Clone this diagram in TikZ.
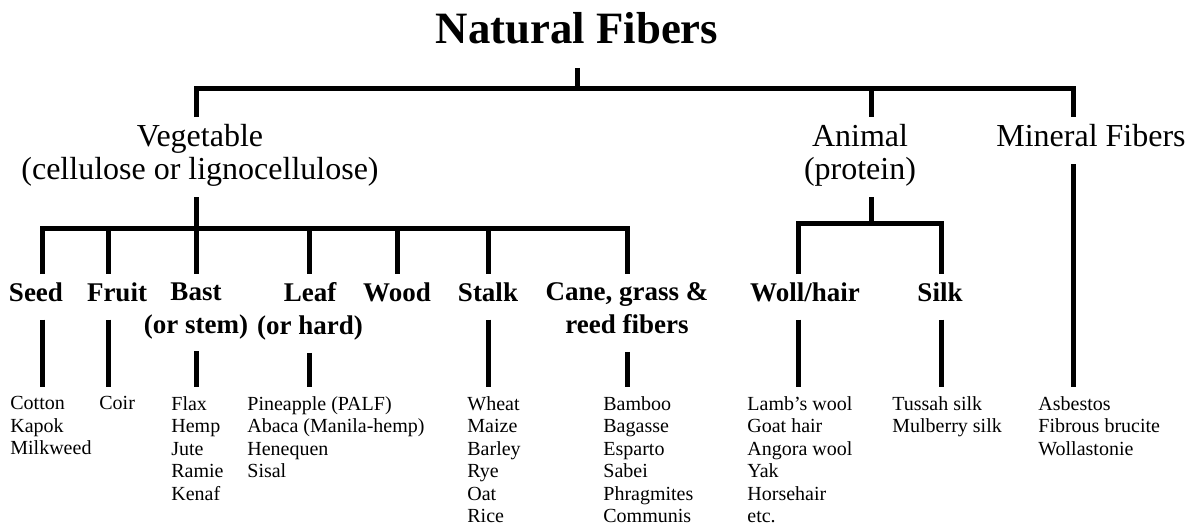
\documentclass[tikz,border=0pt]{standalone}
\usepackage{fontspec}
\setmainfont{Liberation Serif}

\begin{document}
\begin{tikzpicture}[
    x=0.5pt, y=-0.5pt,
    bar/.style={line width=2.5pt, line join=miter},
    head/.style={font=\fontsize{22.4}{26}\selectfont\bfseries, inner xsep=0pt, inner ysep=12pt, anchor=base},
    group/.style={font=\fontsize{16}{16.5}\selectfont, align=center, inner sep=3.5pt, text depth=5pt, anchor=north},
    kind/.style={font=\fontsize{13.5}{16.5}\selectfont\bfseries, align=center, inner sep=4pt, text depth=5pt, anchor=north},
    list/.style={font=\fontsize{10}{11.25}\selectfont, align=left, inner xsep=0pt, inner ysep=4.5pt, anchor=north west}
  ]
    \useasboundingbox (0,0) rectangle (1195,527);
    \node[head] (top) at (577,43) {Natural Fibers};
    \node[group] (veg) at (200,117) {Vegetable\\(cellulose or lignocellulose)};
    \node[group] (ani) at (860,117) {Animal\\(protein)};
    \node[group] (min) at (1091,117) {Mineral Fibers};
    \node[kind] (seed) at (36,274) {Seed};
    \node[kind] (fruit) at (117,274) {Fruit};
    \node[kind] (bast) at (196,274) {Bast\\(or stem)};
    \node[kind] (leaf) at (310,274) {Leaf\\(or hard)};
    \node[kind] (wood) at (397,274) {Wood};
    \node[kind] (stalk) at (488,274) {Stalk};
    \node[kind] (cane) at (627,274) {Cane, grass \&\\reed fibers};
    \node[kind] (wool) at (805,274) {Woll/hair};
    \node[kind] (silk) at (940,274) {Silk};
    \node[list] (cot) at (10,387) {Cotton\\Kapok\\Milkweed};
    \node[list] (coi) at (99,387) {Coir};
    \node[list] (fla) at (171,387) {Flax\\Hemp\\Jute\\Ramie\\Kenaf};
    \node[list] (pin) at (247,387) {Pineapple (PALF)\\Abaca (Manila-hemp)\\Henequen\\Sisal};
    \node[list] (whe) at (467,387) {Wheat\\Maize\\Barley\\Rye\\Oat\\Rice};
    \node[list] (bam) at (603,387) {Bamboo\\Bagasse\\Esparto\\Sabei\\Phragmites\\Communis};
    \node[list] (lam) at (747,387) {Lamb’s wool\\Goat hair\\Angora wool\\Yak\\Horsehair\\etc.};
    \node[list] (tus) at (892,387) {Tussah silk\\Mulberry silk};
    \node[list] (asb) at (1038,387) {Asbestos\\Fibrous brucite\\Wollastonie};
    \coordinate (r1) at (196,88);
    \coordinate (r2) at (871,88);
    \coordinate (r3) at (1073,88);
    \coordinate (v0) at (196,228);
    \coordinate (v1) at (42,228);
    \coordinate (v2) at (108,228);
    \coordinate (v4) at (309,228);
    \coordinate (v5) at (397,228);
    \coordinate (v6) at (488,228);
    \coordinate (v7) at (627,228);
    \coordinate (a0) at (871,223);
    \coordinate (a1) at (798,223);
    \coordinate (a2) at (941,223);
    \draw[bar] (top.south) -- (top.south |- r1);
    \draw[bar] (r1 |- veg.north) -- (r1) -- (r3) -- (r3 |- min.north);
    \draw[bar] (r2) -- (r2 |- ani.north);
    \draw[bar] (veg.south -| v0) -- (v0);
    \draw[bar] (v1 |- seed.north) -- (v1) -- (v7) -- (v7 |- cane.north);
    \draw[bar] (v2) -- (v2 |- fruit.north);
    \draw[bar] (v0) -- (v0 |- bast.north);
    \draw[bar] (v4) -- (v4 |- leaf.north);
    \draw[bar] (v5) -- (v5 |- wood.north);
    \draw[bar] (v6) -- (v6 |- stalk.north);
    \draw[bar] (ani.south -| a0) -- (a0);
    \draw[bar] (a1 |- wool.north) -- (a1) -- (a2) -- (a2 |- silk.north);
    \draw[bar] (seed.south -| v1) -- (v1 |- cot.north);
    \draw[bar] (fruit.south -| v2) -- (v2 |- coi.north);
    \draw[bar] (bast.south -| v0) -- (v0 |- fla.north);
    \draw[bar] (leaf.south -| v4) -- (v4 |- pin.north);
    \draw[bar] (stalk.south -| v6) -- (v6 |- whe.north);
    \draw[bar] (cane.south -| v7) -- (v7 |- bam.north);
    \draw[bar] (wool.south -| a1) -- (a1 |- lam.north);
    \draw[bar] (silk.south -| a2) -- (a2 |- tus.north);
    \draw[bar] (min.south -| r3) -- (r3 |- asb.north);
\end{tikzpicture}
\end{document}
